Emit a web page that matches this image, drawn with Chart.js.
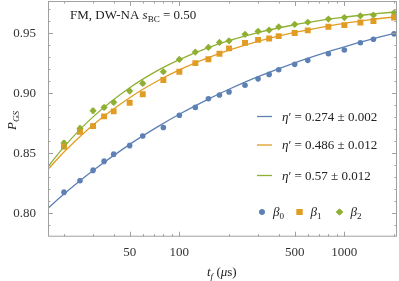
<!DOCTYPE html>
<html>
<head>
<meta charset="utf-8">
<script src="https://cdn.jsdelivr.net/npm/chart.js@4.4.0/dist/chart.umd.min.js"></script>
<style>
  html, body { margin: 0; padding: 0; background: #fff; }
</style>
</head>
<body>
<canvas id="chart" width="399" height="281"></canvas>
<script>
// measured final times (us)
const times = [20, 25, 30, 35, 40, 50, 60, 80, 100, 125, 150, 175, 200, 250, 300, 350, 400, 500, 600, 800, 1000, 1250, 1500, 2000];

// ground state probability per schedule
const beta0 = [0.8175, 0.8272, 0.8358, 0.8433, 0.8492, 0.8565, 0.8644, 0.8715, 0.8817, 0.8883, 0.8955, 0.8986,
               0.9012, 0.9067, 0.9121, 0.9158, 0.9197, 0.9242, 0.9275, 0.9330, 0.9361, 0.9422, 0.9451, 0.9496];
const beta1 = [0.8557, 0.8680, 0.8727, 0.8808, 0.8850, 0.8922, 0.8992, 0.9111, 0.9180, 0.9252, 0.9284, 0.9330,
               0.9375, 0.9421, 0.9446, 0.9457, 0.9477, 0.9504, 0.9525, 0.9555, 0.9569, 0.9590, 0.9603, 0.9633];
const beta2 = [0.8586, 0.8708, 0.8855, 0.8883, 0.8925, 0.9019, 0.9083, 0.9180, 0.9283, 0.9344, 0.9383, 0.9425,
               0.9438, 0.9492, 0.9517, 0.9528, 0.9554, 0.9575, 0.9593, 0.9619, 0.9632, 0.9646, 0.9653, 0.9672];

// error bars (approx half widths)
const err0 = [0.002, 0.0015, 0.002, 0.002, 0.002, 0.002, 0.0015, 0.0015, 0.0015, 0.0015, 0.001, 0.001,
              0.001, 0.001, 0.001, 0.001, 0.001, 0.001, 0.001, 0.001, 0.001, 0.001, 0.001, 0.001];
const err1 = [0.002, 0.002, 0.002, 0.0015, 0.0015, 0.0015, 0.0015, 0.0015, 0.001, 0.001, 0.001, 0.001,
              0.001, 0.001, 0.001, 0.001, 0.001, 0.001, 0.001, 0.001, 0.001, 0.001, 0.001, 0.001];
const err2 = [0.002, 0.002, 0.002, 0.0015, 0.0015, 0.0015, 0.0015, 0.0015, 0.001, 0.001, 0.001, 0.001,
              0.001, 0.001, 0.001, 0.001, 0.001, 0.001, 0.001, 0.001, 0.001, 0.001, 0.001, 0.001];

// fit curves
const fitTimes = [16, 20, 30, 50, 75, 100, 150, 200, 300, 500, 750, 1000, 1500, 2084];
const fit0 = [0.8042, 0.8160, 0.8356, 0.8575, 0.8727, 0.8826, 0.8952, 0.9034, 0.9139, 0.9255, 0.9336, 0.9388, 0.9456, 0.9505];
const fit1 = [0.8367, 0.8511, 0.8737, 0.8964, 0.9109, 0.9196, 0.9298, 0.9360, 0.9434, 0.9508, 0.9555, 0.9584, 0.9617, 0.9640];
const fit2 = [0.8389, 0.8554, 0.8804, 0.9047, 0.9196, 0.9282, 0.9382, 0.9440, 0.9507, 0.9572, 0.9612, 0.9636, 0.9662, 0.9680];

const fitLabels = ["0.274 \u00b1 0.002", "0.486 \u00b1 0.012", "0.57 \u00b1 0.012"];
const seriesLabels = ["0", "1", "2"];

// ticks
const xMajor = [50, 100, 500, 1000];
const xMinor = [20, 30, 40, 60, 70, 80, 90, 200, 300, 400, 600, 700, 800, 900, 2000];
const yMajor = [0.80, 0.85, 0.90, 0.95];
const yMinor = [0.79, 0.81, 0.82, 0.83, 0.84, 0.86, 0.87, 0.88, 0.89, 0.91, 0.92, 0.93, 0.94, 0.96, 0.97];

const blue = "#5E81B5";
const orange = "#E19C24";
const green = "#8FB032";
const colors = [blue, orange, green];
const SERIF = "'Liberation Serif', 'DejaVu Serif', serif";

function pts(xs, ys) {
  return xs.map((x, i) => ({ x: x, y: ys[i] }));
}

// draw a run of text pieces, some italic or subscript
function rich(ctx, parts, x, y, size) {
  let cx = x;
  parts.forEach(p => {
    const s = p.sub ? size * 0.7 : size;
    ctx.font = (p.it ? "italic " : "") + s + "px " + SERIF;
    ctx.fillText(p.t, cx, y + (p.sub ? size * 0.25 : 0));
    cx += ctx.measureText(p.t).width;
  });
  return cx;
}

const decorPlugin = {
  id: "decor",
  beforeDatasetsDraw(chart) {
    const ctx = chart.ctx;
    const xs = chart.scales.x, ys = chart.scales.y;
    const sets = [[beta0, err0], [beta1, err1], [beta2, err2]];
    ctx.save();
    ctx.lineWidth = 1;
    sets.forEach((s, k) => {
      ctx.strokeStyle = colors[k] + "88";
      times.forEach((t, i) => {
        const px = xs.getPixelForValue(t);
        const y1 = ys.getPixelForValue(s[0][i] - s[1][i]);
        const y2 = ys.getPixelForValue(s[0][i] + s[1][i]);
        ctx.beginPath();
        ctx.moveTo(px, y1); ctx.lineTo(px, y2);
        ctx.moveTo(px - 2, y1); ctx.lineTo(px + 2, y1);
        ctx.moveTo(px - 2, y2); ctx.lineTo(px + 2, y2);
        ctx.stroke();
      });
    });
    ctx.restore();
  },
  afterDraw(chart) {
    const ctx = chart.ctx;
    const a = chart.chartArea;
    const xs = chart.scales.x, ys = chart.scales.y;
    ctx.save();
    // frame
    ctx.strokeStyle = "#a0a0a0";
    ctx.lineWidth = 1;
    ctx.strokeRect(a.left + 0.5, a.top + 0.5, a.right - a.left - 1, a.bottom - a.top - 1);
    // inward ticks on all four sides
    ctx.beginPath();
    const xt = (v, len) => {
      const p = Math.round(xs.getPixelForValue(v)) + 0.5;
      ctx.moveTo(p, a.bottom); ctx.lineTo(p, a.bottom - len);
      ctx.moveTo(p, a.top); ctx.lineTo(p, a.top + len);
    };
    const yt = (v, len) => {
      const p = Math.round(ys.getPixelForValue(v)) + 0.5;
      ctx.moveTo(a.left, p); ctx.lineTo(a.left + len, p);
      ctx.moveTo(a.right, p); ctx.lineTo(a.right - len, p);
    };
    xMajor.forEach(v => xt(v, 5));
    xMinor.forEach(v => xt(v, 2.5));
    yMajor.forEach(v => yt(v, 5));
    yMinor.forEach(v => yt(v, 2.5));
    ctx.stroke();

    ctx.fillStyle = "#222";
    ctx.textBaseline = "alphabetic";
    ctx.textAlign = "left";
    // panel title
    rich(ctx, [{ t: "FM, DW-NA " }, { t: "s", it: true }, { t: "BC", sub: true }, { t: " = 0.50" }], 70, 18.5, 13);

    // fit legend
    const ly = [120.5, 149, 179.5];
    ly.forEach((y, k) => {
      ctx.strokeStyle = colors[k];
      ctx.lineWidth = 1.3;
      ctx.beginPath();
      ctx.moveTo(257, y - 4); ctx.lineTo(272, y - 4);
      ctx.stroke();
      ctx.fillStyle = "#222";
      rich(ctx, [{ t: "\u03b7", it: true }, { t: "\u2032 = " + fitLabels[k] }], 282, y, 13);
    });

    // marker legend
    const my = 212;
    const mx = [262, 299.5, 339.5];
    const styles = ["circle", "rect", "rectRot"];
    const radii = [2.8, 4.2, 3.6];
    mx.forEach((x, k) => {
      ctx.fillStyle = colors[k];
      ctx.strokeStyle = colors[k];
      Chart.helpers.drawPoint(ctx, { pointStyle: styles[k], radius: radii[k], borderWidth: 0, rotation: 0 }, x, my);
      ctx.fill();
      ctx.fillStyle = "#222";
      rich(ctx, [{ t: "\u03b2", it: true }, { t: seriesLabels[k], sub: true }], x + 11, my + 3.5, 13);
    });

    // axis titles
    const xtParts = [{ t: "t", it: true }, { t: "f", it: true, sub: true }, { t: " (" }, { t: "\u03bc", it: true }, { t: "s)" }];
    rich(ctx, xtParts, 207, 275.5, 13);
    ctx.translate(16, 119);
    ctx.rotate(-Math.PI / 2);
    rich(ctx, [{ t: "P", it: true }, { t: "GS", it: true, sub: true }], -11, 0, 13);
    ctx.restore();
  }
};

new Chart(document.getElementById("chart"), {
  type: "scatter",
  data: {
    datasets: [
      { data: pts(fitTimes, fit0), showLine: true, borderColor: blue, borderWidth: 1.3, pointRadius: 0, cubicInterpolationMode: "monotone", fill: false },
      { data: pts(fitTimes, fit1), showLine: true, borderColor: orange, borderWidth: 1.3, pointRadius: 0, cubicInterpolationMode: "monotone", fill: false },
      { data: pts(fitTimes, fit2), showLine: true, borderColor: green, borderWidth: 1.3, pointRadius: 0, cubicInterpolationMode: "monotone", fill: false },
      { data: pts(times, beta0), pointStyle: "circle", pointRadius: 2.8, backgroundColor: blue, borderWidth: 0 },
      { data: pts(times, beta1), pointStyle: "rect", pointRadius: 4.2, backgroundColor: orange, borderWidth: 0 },
      { data: pts(times, beta2), pointStyle: "rectRot", pointRadius: 3.6, backgroundColor: green, borderWidth: 0 }
    ]
  },
  options: {
    responsive: false,
    animation: false,
    devicePixelRatio: 1,
    layout: { autoPadding: false, padding: { top: 1, right: 2, left: 0, bottom: 0 } },
    plugins: { legend: { display: false }, tooltip: { enabled: false } },
    scales: {
      x: {
        type: "logarithmic",
        min: 16,
        max: 2084,
        grid: { display: false },
        border: { display: false },
        afterBuildTicks: s => { s.ticks = xMajor.map(v => ({ value: v })); },
        afterFit: s => { s.height = 44.3; s.paddingLeft = 0; s.paddingRight = 0; },
        ticks: {
          autoSkip: false, maxRotation: 0, padding: 0, color: "#333",
          font: { family: SERIF, size: 13 },
          callback: v => String(v)
        }
      },
      y: {
        min: 0.7805,
        max: 0.977,
        grid: { display: false },
        border: { display: false },
        afterBuildTicks: s => { s.ticks = yMajor.map(v => ({ value: v })); },
        afterFit: s => { s.width = 48; s.paddingTop = 0; s.paddingBottom = 0; },
        ticks: {
          padding: 4, color: "#333",
          font: { family: SERIF, size: 13 },
          callback: v => v.toFixed(2)
        }
      }
    }
  },
  plugins: [decorPlugin]
});
</script>
</body>
</html>
